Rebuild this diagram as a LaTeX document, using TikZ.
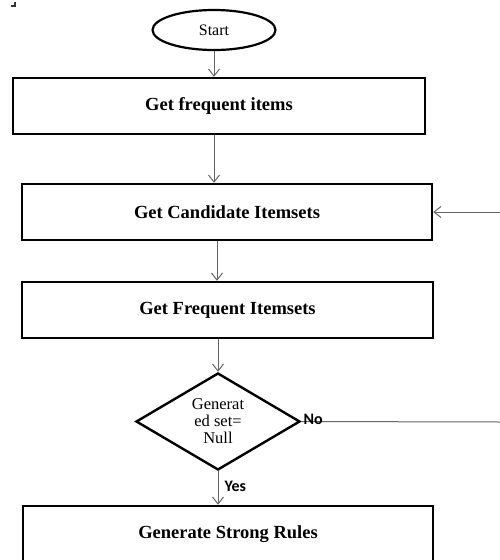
\documentclass[tikz,border=0pt]{standalone}
\usepackage{fontspec}
\setmainfont{Liberation Serif}
\newfontfamily\labelfont{Carlito}
\usetikzlibrary{shapes.geometric,arrows.meta}

\tikzset{
  stepbox/.style={draw=black,line width=2.4pt,minimum height=56pt,inner sep=0pt,
    font=\fontsize{18.5}{20}\selectfont\bfseries},
  flowline/.style={draw=black!60,line width=1pt},
  answer/.style={font=\labelfont\fontsize{16}{18}\selectfont\bfseries,inner sep=1pt}
}

\begin{document}
\begin{tikzpicture}[x=1pt,y=-1pt,>={Straight Barb[length=7pt,width=11pt]}]
  \useasboundingbox (0,0) rectangle (500,560);
  \clip (0,0) rectangle (500,560);
  \fill[black!80] (11,5) rectangle (16,7);
  \fill[black!80] (14,2) rectangle (16,7);

  \node[ellipse,draw,line width=2.2pt,minimum width=123pt,minimum height=40pt,inner sep=0pt,
    font=\fontsize{16}{18}\selectfont] (start) at (214,30) {Start};
  \node[stepbox,minimum width=412pt] (items) at (219,106) {Get frequent items};
  \node[stepbox,minimum width=410pt] (cand) at (227,212) {Get Candidate Itemsets};
  \node[stepbox,minimum width=411pt] (freq) at (227.5,310) {Get Frequent Itemsets};
  \node[diamond,draw,line width=2.4pt,aspect=1.7,inner sep=0pt,minimum width=164pt,
    minimum height=97pt,align=center,font=\fontsize{16.5}{17}\selectfont] (null) at (218,421.5)
    {Generat\\ed set=\\Null};
  \node[stepbox,minimum width=410pt,minimum height=80pt] (rules) at (228,546) {};
  \node[font=\fontsize{18.5}{20}\selectfont\bfseries] (rulestext) at (228,534) {Generate Strong Rules};

  \coordinate (loopin) at (500,212);
  \coordinate (loopout) at (500,422);

  \draw[flowline,->] (start.south) -- (start.south |- items.north);
  \draw[flowline,->] (items.south -| start.south) -- (start.south |- cand.north);
  \draw[flowline,->] ([xshift=-10pt]cand.south) -- ([xshift=-10pt]cand.south |- freq.north);
  \draw[flowline,->] (freq.south -| null.north) -- (null.north);
  \draw[flowline,->] (null.south) -- (null.south |- rules.north)
    node[answer,pos=0.45,right=5pt] {Yes};
  \draw[flowline] (null.east) -- (loopout)
    node[answer,pos=0,anchor=south west,xshift=1pt,yshift=-5pt] {No};
  \draw[flowline,->] (loopin) -- (cand.east);
\end{tikzpicture}
\end{document}
